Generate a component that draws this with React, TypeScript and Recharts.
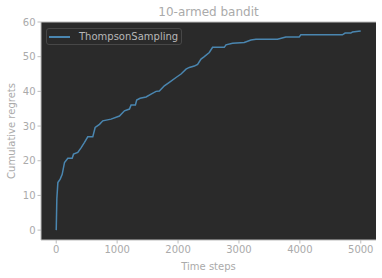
import React from 'react'
import {
  LineChart, Line, XAxis, YAxis, CartesianGrid,
} from 'recharts'

// cumulative regret of Thompson sampling
const steps = [
  0, 10, 27, 65, 98, 136, 190, 262, 284, 354, 410, 464, 518, 600, 639, 710, 764, 900,
  1038, 1120, 1202, 1229, 1300, 1321, 1377, 1475, 1557, 1639, 1693, 1775, 1857, 1967,
  2049, 2131, 2185, 2267, 2321, 2377, 2431, 2513, 2567, 2759, 2787, 2895, 3087, 3197,
  3279, 3633, 3770, 3989, 4016, 4698, 4743, 4836, 4863, 4999,
]
const regrets = [
  0, 9, 13.7, 14.7, 16.1, 19.5, 20.7, 20.7, 21.9, 22.4, 23.8, 25.3, 26.9, 26.9, 29.6, 30.5, 31.5, 32,
  32.9, 34.4, 34.9, 36.1, 36.1, 37.5, 38, 38.4, 39.2, 40, 40.1, 41.6, 42.6, 44,
  45, 46.4, 46.9, 47.3, 47.8, 49.3, 50, 51.2, 52.7, 52.7, 53.4, 53.9, 54.1, 54.8,
  55, 55, 55.7, 55.7, 56.3, 56.3, 56.8, 56.8, 57.1, 57.4,
]
const xTicks = [0, 1000, 2000, 3000, 4000, 5000]
const yTicks = [0, 10, 20, 30, 40, 50, 60]
const seriesName = 'ThompsonSampling'

const data = steps.map((t, i) => ({ t, regret: regrets[i] }))

const FONT = 'DejaVu Sans'
const TEXT = '#aaaaaa'
const SPINE = '#bcbcbc'
const LINE = '#4a86b0'

// legend drawn as an overlay so it doesn't eat plot space
function LegendBox() {
  return (
    <div style={{
      position: 'absolute', left: 46, top: 28,
      display: 'flex', alignItems: 'center', width: 134, height: 15,
      border: '1px solid #474747', borderRadius: 3, background: '#2a2a2a',
      fontFamily: FONT, fontSize: 10, color: '#b8b8b8',
    }}>
      <div style={{ width: 21, height: 2, background: LINE, marginLeft: 2, marginRight: 9 }} />
      <span>{seriesName}</span>
    </div>
  )
}

export default function App() {
  return (
    <div style={{ position: 'fixed', left: 0, top: 0, width: 382, height: 278, background: '#fff' }}>
      <LineChart width={382} height={278} data={data}
        margin={{ top: 0, right: 6, bottom: 0, left: 0 }}>
        <CartesianGrid horizontal={false} vertical={false} fill="#2a2a2a" fillOpacity={1} />
        <XAxis xAxisId="top" orientation="top" dataKey="t" type="number" domain={[-250, 5250]}
          height={22} tick={false} tickLine={false} axisLine={{ stroke: SPINE }}
          label={{ value: '10-armed bandit', position: 'center', fill: TEXT, fontSize: 12, fontFamily: FONT, dy: 1 }} />
        <YAxis yAxisId="right" orientation="right" domain={[-2.85, 60]} width={0}
          tick={false} tickLine={false} axisLine={{ stroke: SPINE }} />
        <XAxis dataKey="t" type="number" domain={[-250, 5250]} ticks={xTicks}
          height={38} allowDataOverflow
          axisLine={{ stroke: SPINE }} tickLine={{ stroke: SPINE }} tickSize={3.5}
          tick={{ fill: TEXT, fontSize: 10, fontFamily: FONT }}
          label={{ value: 'Time steps', position: 'center', fill: TEXT, fontSize: 10, fontFamily: FONT, dy: 7 }} />
        <YAxis domain={[-2.85, 60]} ticks={yTicks} width={41} allowDataOverflow
          axisLine={{ stroke: SPINE }} tickLine={{ stroke: SPINE }} tickSize={3.5}
          tick={{ fill: TEXT, fontSize: 10, fontFamily: FONT }}
          label={{ value: 'Cumulative regrets', angle: -90, position: 'center', fill: TEXT, fontSize: 10, fontFamily: FONT, dx: -9 }} />
        <Line dataKey="regret" name={seriesName} stroke={LINE} strokeWidth={1.5}
          dot={false} type="linear" isAnimationActive={false} />
      </LineChart>
      <LegendBox />
    </div>
  )
}
